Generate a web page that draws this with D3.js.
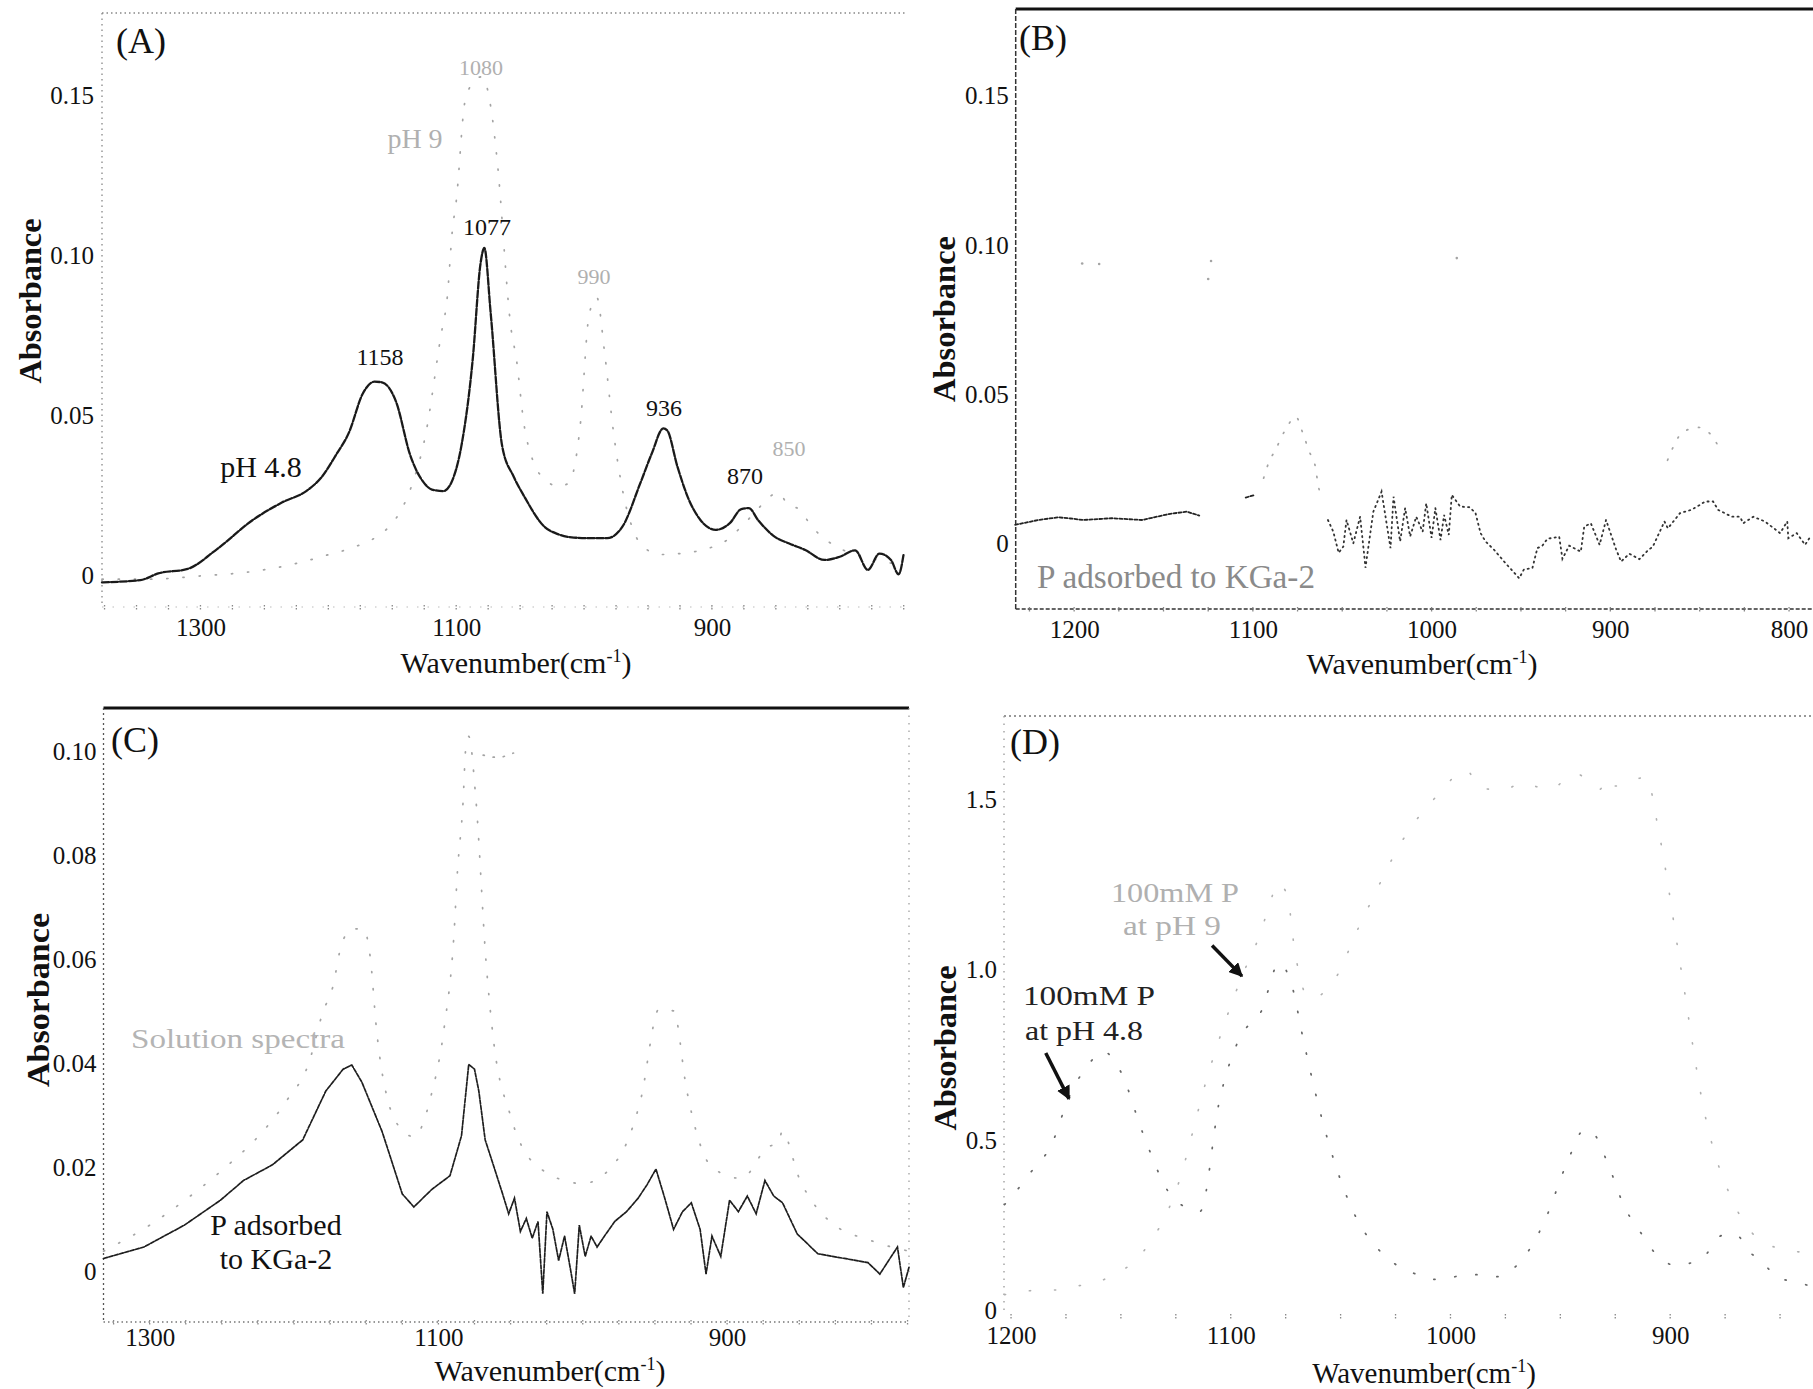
<!DOCTYPE html>
<html>
<head>
<meta charset="utf-8">
<script src="https://cdn.jsdelivr.net/npm/d3@7"></script>
<style>
body { margin: 0; background: #fff; }
svg { display: block; }
text { font-family: "Liberation Serif", "DejaVu Serif", serif; }
</style>
</head>
<body>
<svg id="chart"></svg>
<script>
// ---- data: [wavenumber, absorbance] ----
let aPH48 = [[1377,-0.002],[1347,-0.0013],[1333,0.0008],[1310,0.0022],[1287,0.0084],[1259,0.0175],[1236,0.023],[1217,0.0266],[1205,0.031],[1194,0.0378],[1184,0.0447],[1173,0.057],[1164,0.0607],[1158,0.0605],[1147,0.0544],[1136,0.0378],[1125,0.029],[1119,0.027],[1110,0.0265],[1104,0.029],[1096,0.0405],[1087,0.068],[1081,0.0975],[1078,0.1025],[1073,0.082],[1064,0.0405],[1055,0.031],[1047,0.025],[1031,0.0154],[1020,0.013],[1008,0.012],[995,0.0118],[982,0.0118],[970,0.0154],[956,0.029],[947,0.0383],[938,0.0461],[935,0.0455],[927,0.0342],[918,0.0238],[909,0.0175],[897,0.0144],[886,0.0165],[877,0.0209],[871,0.0212],[864,0.0175],[851,0.0123],[840,0.0102],[827,0.0081],[812,0.005],[800,0.006],[788,0.008],[778,0.0019],[769,0.007],[760,0.005],[754,0.0005],[750,0.007]];
let aPH9 = [[1377,-0.001],[1340,-0.001],[1300,0],[1259,0.0014],[1222,0.0042],[1203,0.0063],[1180,0.009],[1161,0.0126],[1147,0.018],[1135,0.028],[1124,0.044],[1112,0.075],[1107,0.087],[1103,0.108],[1100,0.117],[1093,0.1485],[1085,0.155],[1080,0.156],[1072,0.144],[1068,0.13],[1057,0.077],[1053,0.068],[1047,0.0475],[1040,0.036],[1030,0.03],[1020,0.028],[1012,0.029],[1003,0.047],[996,0.0817],[990,0.087],[984,0.07],[977,0.045],[970,0.027],[959,0.012],[950,0.008],[940,0.0067],[925,0.007],[900,0.009],[889,0.011],[877,0.0154],[866,0.02],[854,0.025],[848,0.026],[840,0.022],[832,0.021],[823,0.016],[816,0.013],[802,0.009],[780,0.006],[760,0.004],[750,0.003]];

let bAdsorbedLeft = [[1233,0.0064],[1220,0.008],[1209,0.0089],[1202,0.0085],[1195,0.008],[1179,0.0086],[1162,0.008],[1147,0.010],[1137,0.0108],[1130,0.0095],null,[1104,0.0155],[1099,0.0164]];
let bAdsorbedNoisy = [[1058,0.008],[1055,0.0041],[1052,-0.003],[1049.4,-0.0009],[1047.6,0.008],[1043.8,0.0002],[1040,0.0091],[1037.6,-0.0043],[1037,-0.008],[1032.6,0.0108],[1028,0.0175],[1023,-0.0014],[1021.3,0.0158],[1017.6,0.0008],[1014.8,0.012],[1012,0.0025],[1008.6,0.0091],[1005,0.0041],[1003,0.0136],[1000,0.002],[997.9,0.012],[995,0.0013],[993,0.0097],[990.4,0.003],[988.7,0.0164],[984,0.0125],[979,0.0123],[975.5,0.0105],[972.6,0.0036],[969.8,0.0008],[965,-0.002],[958.6,-0.0065],[954.9,-0.0089],[951,-0.0115],[948.3,-0.0085],[943.6,-0.0081],[940.8,-0.0014],[938,-0.0006],[935.2,0.0017],[928.6,0.0024],[926.8,-0.005],[923,-0.0006],[916.5,-0.0026],[914.6,0.0058],[910.9,0.0069],[906,-0.0003],[902.4,0.008],[896.8,-0.0018],[894,-0.0059],[889.3,-0.0033],[883.7,-0.0051],[879,-0.0022],[876.2,-0.0009],[869.7,0.0075],[867.8,0.0052],[861,0.0103],[854.7,0.0114],[850,0.013],[847,0.0142],[842.5,0.0142],[839.7,0.0114],[832,0.0091],[827.5,0.0091],[825.6,0.0069],[820,0.0091],[813.5,0.0075],[805,0.0036],[801,0.0075],[800.4,0.0019],[795.7,0.0036],[791,-0.0003],[788,0.0025]];
let bSolution1077 = [[1094,0.022],[1090.6,0.028],[1087.8,0.031],[1082,0.038],[1077.5,0.042],[1076,0.0426],[1072,0.037],[1068.5,0.031],[1065,0.0257],[1063.5,0.0198],[1061,0.015]];
let bSolution850 = [[868,0.028],[859.4,0.0374],[850.8,0.039],[844.4,0.037],[838,0.031]];
let bUpperDots = [[1195.5,0.0939],[1186,0.0937],[1125,0.0887],[1123.4,0.0947],[985.9,0.0957]];

let cAdsorbed = [[1332,0.0026],[1304,0.0048],[1276,0.009],[1251,0.0138],[1235,0.0176],[1215,0.0206],[1194,0.0254],[1178,0.0348],[1166,0.039],[1160,0.0398],[1153,0.0365],[1139,0.027],[1125,0.015],[1117,0.0125],[1104.5,0.0159],[1092,0.0185],[1084,0.0262],[1079,0.0399],[1075,0.039],[1072,0.0348],[1067.6,0.0254],[1061.5,0.0202],[1055.5,0.015],[1051.3,0.0112],[1047.3,0.0142],[1043.2,0.0078],[1039.1,0.0103],[1035,0.0065],[1031,0.0097],[1027.7,-0.0042],[1024.8,0.0116],[1020.7,0.0082],[1016.7,0.0022],[1012.6,0.0069],[1008.5,0.0005],[1005.6,-0.0042],[1002.4,0.009],[998.3,0.003],[994.2,0.0069],[990.1,0.0048],[984,0.0073],[977.9,0.0097],[969.7,0.0116],[961.6,0.0142],[955.4,0.0168],[949.3,0.0198],[943.2,0.0142],[937.1,0.0082],[930.9,0.0116],[924.8,0.0133],[918.7,0.0082],[914.6,-0.0004],[910.5,0.0069],[904.4,0.003],[898.3,0.0138],[892.2,0.0116],[886,0.0146],[879.9,0.0112],[873.8,0.0176],[867.7,0.0146],[861.6,0.0133],[851.4,0.0073],[837.1,0.0035],[818.7,0.0026],[802.4,0.0018],[794.2,-0.0004],[782,0.0048],[777.9,-0.003],[774,0.0009]];
let cSolution = [[1332,0.004],[1300,0.009],[1270,0.015],[1244,0.021],[1227,0.0254],[1205,0.033],[1190,0.04],[1180,0.05],[1173,0.055],[1168,0.062],[1160,0.066],[1152,0.066],[1147,0.06],[1143,0.047],[1135,0.033],[1124,0.027],[1117,0.026],[1105,0.034],[1096,0.047],[1089,0.0659],[1087,0.0762],[1083,0.09],[1081,0.1009],[1079,0.103],[1074,0.0908],[1067,0.0597],[1062,0.045],[1050,0.03],[1030,0.02],[1000,0.017],[975,0.022],[960,0.033],[947,0.0506],[937,0.0502],[928,0.035],[910,0.02],[890,0.018],[872,0.024],[864,0.0249],[862,0.0271],[850,0.018],[830,0.01],[800,0.006],[774,0.004]];
let cSolutionTop = [[1069,0.0994],[1063,0.099],[1056,0.099],[1048,0.0998]];

let dPH48 = [[1203,0.31],[1200,0.33],[1196,0.363],[1192,0.397],[1181,0.495],[1174,0.62],[1165,0.72],[1158,0.76],[1150,0.70],[1140,0.52],[1128,0.344],[1120,0.30],[1114,0.29],[1105,0.62],[1096,0.80],[1086,0.88],[1078,1.02],[1072,0.95],[1067,0.796],[1058,0.55],[1045,0.3],[1030,0.16],[1024,0.13],[1013,0.10],[1008,0.09],[1000,0.095],[993,0.104],[985,0.104],[979,0.098],[970,0.13],[962,0.2],[957,0.264],[947,0.432],[939,0.53],[935,0.52],[928,0.424],[920,0.292],[916,0.253],[904,0.149],[898,0.132],[886,0.149],[876,0.22],[872,0.21],[869,0.216],[865,0.177],[860,0.151],[856,0.126],[851,0.095],[845,0.085],[837,0.072],[835,0.068]];
let dPH9 = [[1203,0.045],[1201,0.047],[1186,0.059],[1179,0.059],[1171,0.07],[1164,0.076],[1155,0.098],[1140,0.17],[1125,0.35],[1110,0.7],[1095,0.98],[1087,1.1],[1081,1.22],[1079,1.256],[1074,1.218],[1072,1.11],[1064,0.916],[1055,0.95],[1040,1.15],[1020,1.4],[1005,1.52],[993,1.589],[986,1.533],[975,1.531],[968,1.55],[955,1.531],[943,1.578],[932,1.531],[929,1.565],[925,1.541],[911,1.567],[905,1.4],[895,1.0],[885,0.6],[870,0.3],[858,0.2],[849,0.18],[838,0.166],[835,0.16]];
let dArrows = [[1184.2,0.756,1173.6,0.621],[1108.5,1.072,1094.9,0.982]];

let ticksAy = [0, 0.05, 0.10, 0.15];
let ticksAx = [1300, 1100, 900];
let ticksBy = [0, 0.05, 0.10, 0.15];
let ticksBx = [1200, 1100, 1000, 900, 800];
let ticksCy = [0, 0.02, 0.04, 0.06, 0.08, 0.10];
let ticksCx = [1300, 1100, 900];
let ticksDy = [0, 0.5, 1.0, 1.5];
let ticksDx = [1200, 1100, 1000, 900];

let serif = '"Liberation Serif", "DejaVu Serif", serif';
let width = 1813;
let height = 1389;

let svg = d3.select('#chart').attr('width', width).attr('height', height);

svg.append('defs').append('marker')
  .attr('id', 'head').attr('viewBox', '0 0 10 10')
  .attr('refX', 9).attr('refY', 5)
  .attr('markerWidth', 4).attr('markerHeight', 4)
  .attr('orient', 'auto')
  .append('path').attr('d', 'M0,0 L10,5 L0,10 z').attr('fill', '#111');

let fmt2 = v => v === 0 ? '0' : v.toFixed(2);
let fmt1 = v => v === 0 ? '0' : v.toFixed(1);

let panel = p => {
  let g = svg.append('g');
  let x = d3.scaleLinear().domain(p.xDom).range([p.left, p.right]);
  let y = d3.scaleLinear().domain(p.yDom).range([p.bottom, p.top]);

  // frame pieces
  p.frame.forEach(f => {
    let pts = {
      top: [p.left, p.top, p.right, p.top],
      bottom: [p.left, p.bottom, p.right, p.bottom],
      left: [p.left, p.top, p.left, p.bottom],
      right: [p.right, p.top, p.right, p.bottom]
    }[f.side];
    g.append('line')
      .attr('x1', pts[0]).attr('y1', pts[1]).attr('x2', pts[2]).attr('y2', pts[3])
      .attr('stroke', f.color).attr('stroke-width', f.w)
      .attr('stroke-dasharray', f.dash || null);
  });

  // minor tick dots along the bottom
  let lo = Math.ceil(Math.min(...p.xDom) / 25) * 25;
  let hi = Math.max(...p.xDom);
  g.selectAll('.minor').data(d3.range(lo, hi, 25)).enter()
    .append('line')
    .attr('x1', d => x(d)).attr('x2', d => x(d))
    .attr('y1', p.bottom - 2).attr('y2', p.bottom + 3)
    .attr('stroke', '#888').attr('stroke-width', 1.3)
    .attr('stroke-dasharray', '1.5 1.5');

  let yAxis = d3.axisLeft(y).tickValues(p.yTicks).tickSize(0).tickPadding(p.yPad).tickFormat(p.yFmt);
  g.append('g').attr('transform', 'translate(' + p.left + ',0)').call(yAxis)
    .attr('font-size', 25).attr('font-family', serif)
    .call(a => a.select('.domain').remove())
    .selectAll('text').attr('fill', '#111');

  let xAxis = d3.axisBottom(x).tickValues(p.xTicks).tickSize(0).tickPadding(p.xPad).tickFormat(d3.format('d'));
  g.append('g').attr('transform', 'translate(0,' + p.bottom + ')').call(xAxis)
    .attr('font-size', 25).attr('font-family', serif)
    .call(a => a.select('.domain').remove())
    .selectAll('text').attr('fill', '#111');

  // axis titles
  g.append('text')
    .attr('transform', 'translate(' + p.yTitle[0] + ',' + p.yTitle[1] + ') rotate(-90)')
    .attr('text-anchor', 'middle').attr('dominant-baseline', 'central')
    .attr('font-family', serif)
    .attr('font-size', 32).attr('font-weight', 'bold').attr('fill', '#111')
    .attr('textLength', p.yTitle[2]).attr('lengthAdjust', 'spacingAndGlyphs')
    .text('Absorbance');

  let xt = g.append('text')
    .attr('x', p.xTitle[0]).attr('y', p.xTitle[1])
    .attr('font-family', serif)
    .attr('text-anchor', 'middle').attr('font-size', p.xTitle[2] || 30).attr('fill', '#111');
  xt.append('tspan').text('Wavenumber(cm');
  xt.append('tspan').attr('font-size', 18).attr('dy', -11).text('-1');
  xt.append('tspan').attr('dy', 11).text(')');

  g.append('text')
    .attr('x', p.letter[0]).attr('y', p.letter[1])
    .attr('font-family', serif)
    .attr('font-size', 36).attr('fill', '#111')
    .text(p.name);

  return { g: g, x: x, y: y };
};

let drawSeries = (pn, data, style) => {
  let line = d3.line()
    .defined(d => d !== null)
    .x(d => pn.x(d[0]))
    .y(d => pn.y(d[1]))
    .curve(style.smooth ? d3.curveMonotoneX : d3.curveLinear);
  pn.g.append('path')
    .datum(data)
    .attr('d', line)
    .attr('fill', 'none')
    .attr('stroke', style.color)
    .attr('stroke-width', style.w)
    .attr('stroke-dasharray', style.dash)
    .attr('stroke-linecap', 'round');
};

let drawDots = (pn, data, color) => {
  pn.g.selectAll(null).data(data).enter()
    .append('circle')
    .attr('cx', d => pn.x(d[0])).attr('cy', d => pn.y(d[1]))
    .attr('r', 1.3).attr('fill', color);
};

let note = (pn, txt, px, py, size, color, anchor, len) => {
  let t = pn.g.append('text')
    .attr('x', px).attr('y', py)
    .attr('font-family', serif)
    .attr('text-anchor', anchor || 'middle')
    .attr('font-size', size).attr('fill', color)
    .text(txt);
  if (len) t.attr('textLength', len).attr('lengthAdjust', 'spacingAndGlyphs');
};

let gray = '#a4a4a4';
let lightText = '#b0b0b0';

// ---- panel A ----
let pA = panel({
  name: '(A)', letter: [116, 53],
  left: 102, right: 905, top: 13, bottom: 607,
  xDom: [1377, 749], yDom: [-0.0097, 0.1759],
  xTicks: ticksAx, yTicks: ticksAy, yFmt: fmt2, yPad: 8, xPad: 11,
  yTitle: [30, 301, 165], xTitle: [516, 673],
  frame: [
    { side: 'top', color: '#888', w: 1.3, dash: '1.5 3' },
    { side: 'left', color: '#888', w: 1.3, dash: '1.5 4' },
    { side: 'bottom', color: '#bbb', w: 1.2, dash: '1.5 9' }
  ]
});
drawSeries(pA, aPH9, { color: gray, w: 1.7, dash: '1.2 15', smooth: true });
drawSeries(pA, aPH48, { color: '#1a1a1a', w: 2.3, dash: '7 2', smooth: true });
note(pA, '1080', 481, 75, 22, lightText);
note(pA, 'pH 9', 415, 148, 28, lightText);
note(pA, '1077', 487, 235, 24, '#111');
note(pA, '990', 594, 284, 22, lightText);
note(pA, '1158', 380, 365, 24, '#111');
note(pA, '936', 664, 416, 24, '#111');
note(pA, '850', 789, 456, 22, lightText);
note(pA, '870', 745, 484, 24, '#111');
note(pA, 'pH 4.8', 261, 477, 30, '#111');

// ---- panel B ----
let pB = panel({
  name: '(B)', letter: [1019, 50],
  left: 1015.7, right: 1813, top: 9, bottom: 609,
  xDom: [1232.7, 786.6], yDom: [-0.0218, 0.1791],
  xTicks: ticksBx, yTicks: ticksBy, yFmt: fmt2, yPad: 7, xPad: 11,
  yTitle: [944, 319, 166], xTitle: [1422, 674],
  frame: [
    { side: 'top', color: '#111', w: 3 },
    { side: 'left', color: '#333', w: 1.5, dash: '5 2' },
    { side: 'bottom', color: '#333', w: 1.6, dash: '4 2' }
  ]
});
drawSeries(pB, bSolution1077, { color: gray, w: 1.7, dash: '1.2 11', smooth: true });
drawSeries(pB, bSolution850, { color: gray, w: 1.7, dash: '1.2 11', smooth: true });
drawDots(pB, bUpperDots, gray);
drawSeries(pB, bAdsorbedLeft, { color: '#222', w: 1.8, dash: '3 2', smooth: false });
drawSeries(pB, bAdsorbedNoisy, { color: '#333', w: 1.8, dash: '1.2 4', smooth: false });
note(pB, 'P adsorbed to KGa-2', 1037, 588, 33, '#8a8a8a', 'start', 278);

// ---- panel C ----
let pC = panel({
  name: '(C)', letter: [111, 752],
  left: 103.5, right: 909, top: 708, bottom: 1322,
  xDom: [1332, 774], yDom: [-0.00962, 0.10846],
  xTicks: ticksCx, yTicks: ticksCy, yFmt: fmt2, yPad: 7, xPad: 6,
  yTitle: [38, 1000, 174], xTitle: [550, 1381],
  frame: [
    { side: 'top', color: '#111', w: 3 },
    { side: 'left', color: '#555', w: 1.3, dash: '2 3' },
    { side: 'bottom', color: '#777', w: 1.3, dash: '1.5 3' },
    { side: 'right', color: '#999', w: 1.2, dash: '1.5 6' }
  ]
});
drawSeries(pC, cSolution, { color: gray, w: 1.7, dash: '1.2 16', smooth: true });
drawSeries(pC, cSolutionTop, { color: gray, w: 1.7, dash: '1.2 9', smooth: false });
drawSeries(pC, cAdsorbed, { color: '#1e1e1e', w: 1.7, dash: '4 1.5', smooth: false });
note(pC, 'Solution spectra', 131, 1048, 28, '#b4b4b4', 'start', 214);
note(pC, 'P adsorbed', 276, 1235, 30, '#111');
note(pC, 'to KGa-2', 276, 1269, 30, '#111');

// ---- panel D ----
let pD = panel({
  name: '(D)', letter: [1010, 754],
  left: 1004, right: 1813, top: 716, bottom: 1316,
  xDom: [1203.2, 835], yDom: [-0.0176, 1.747],
  xTicks: ticksDx, yTicks: ticksDy, yFmt: fmt1, yPad: 7, xPad: 10,
  yTitle: [945, 1048, 165], xTitle: [1424, 1383, 29],
  frame: [
    { side: 'top', color: '#777', w: 1.3, dash: '2 3' },
    { side: 'left', color: '#999', w: 1.3, dash: '1.5 6' }
  ]
});
drawSeries(pD, dPH9, { color: '#b0b0b0', w: 1.6, dash: '1.2 24', smooth: true });
drawSeries(pD, dPH48, { color: '#666', w: 1.7, dash: '1.2 20', smooth: true });
pD.g.selectAll('.arrow').data(dArrows).enter()
  .append('line')
  .attr('x1', d => pD.x(d[0])).attr('y1', d => pD.y(d[1]))
  .attr('x2', d => pD.x(d[2])).attr('y2', d => pD.y(d[3]))
  .attr('stroke', '#111').attr('stroke-width', 3.5)
  .attr('marker-end', 'url(#head)');
note(pD, '100mM P', 1023, 1005, 28, '#222', 'start', 132);
note(pD, 'at pH 4.8', 1025, 1040, 28, '#222', 'start', 118);
note(pD, '100mM P', 1175, 902, 27, lightText, 'middle', 128);
note(pD, 'at pH 9', 1172, 935, 27, lightText, 'middle', 98);
</script>
</body>
</html>
